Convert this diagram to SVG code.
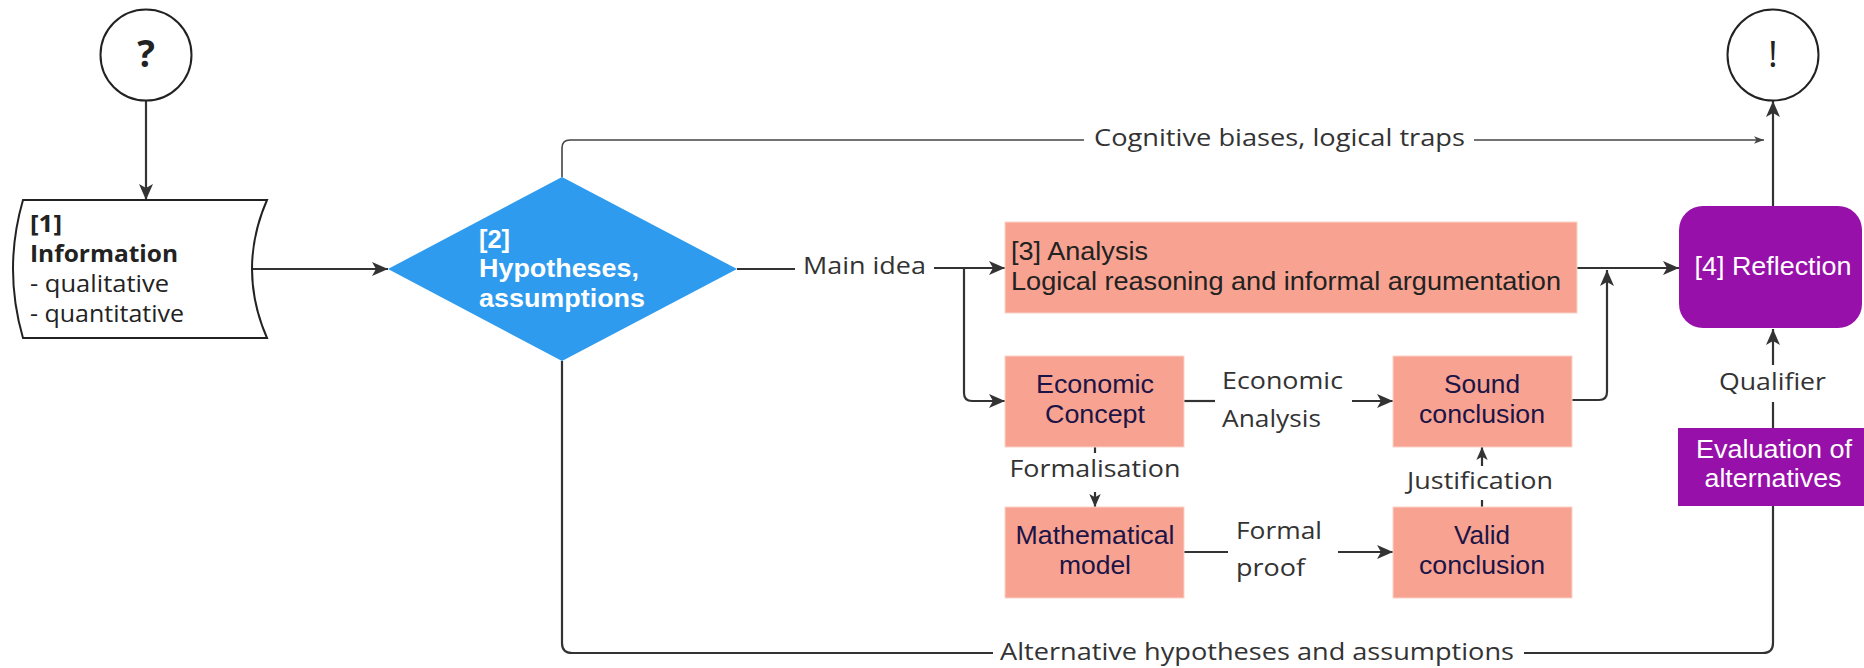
<svg xmlns="http://www.w3.org/2000/svg" width="1864" height="668" viewBox="0 0 1864 668">
<style>
.ln{fill:none;stroke:#333;stroke-width:2.2}
.thin{fill:none;stroke:#444;stroke-width:1.6}
.lbl{font-family:"Open Sans","Noto Sans",sans-serif;font-size:24px;fill:#333}
.nt{font-family:"Liberation Sans",Arial,sans-serif;font-size:25px}
.salmon{fill:#F8A291;stroke:#FBD3CA;stroke-width:1}
.purple{fill:#9810AA}
.navy{fill:#1B1446}
.wt{fill:#fff}
.ctr{text-anchor:middle}
</style>
<defs>
<marker id="a" viewBox="0 0 16 16" markerWidth="16" markerHeight="16" refX="16" refY="8" orient="auto" markerUnits="userSpaceOnUse"><path d="M0,1 L16,8 L0,15 L4,8 Z" fill="#333"/></marker>
<marker id="s" viewBox="0 0 16 16" markerWidth="13" markerHeight="13" refX="16" refY="8" orient="auto" markerUnits="userSpaceOnUse"><path d="M0,1 L16,8 L0,15 L4,8 Z" fill="#333"/></marker>
<marker id="t" viewBox="0 0 16 16" markerWidth="10" markerHeight="10" refX="16" refY="8" orient="auto" markerUnits="userSpaceOnUse"><path d="M0,2 L16,8 L0,14 L4,8 Z" fill="#444"/></marker>
</defs>
<rect width="1864" height="668" fill="#fff"/>

<g id="connectors">
<path class="ln" d="M146,101 L146,200" marker-end="url(#a)"/>
<path class="ln" d="M252,269 L388,269" marker-end="url(#a)"/>
<path class="ln" d="M737,269 L795,269"/>
<path class="ln" d="M934,268 L1005,268" marker-end="url(#a)"/>
<path class="ln" d="M964,268 L964,393 Q964,401 972,401 L1005,401" marker-end="url(#a)"/>
<path class="ln" d="M1184,401 L1215,401"/>
<path class="ln" d="M1352,401 L1393,401" marker-end="url(#a)"/>
<path class="ln" d="M1095,447 L1095,453"/>
<path class="ln" d="M1095,492 L1095,507" marker-end="url(#s)"/>
<path class="ln" d="M1184,552 L1228,552"/>
<path class="ln" d="M1338,552 L1393,552" marker-end="url(#a)"/>
<path class="ln" d="M1482,507 L1482,500"/>
<path class="ln" d="M1482,466 L1482,447" marker-end="url(#s)"/>
<path class="ln" d="M1572,400 L1599,400 Q1607,400 1607,392 L1607,270" marker-end="url(#a)"/>
<path class="ln" d="M1577,268 L1679,268" marker-end="url(#a)"/>
<path class="ln" d="M1773,206 L1773,101" marker-end="url(#a)"/>
<path class="thin" d="M562,177 L562,148 Q562,140 570,140 L1084,140"/>
<path class="thin" d="M1474,140 L1764,140" marker-end="url(#t)"/>
<path class="ln" d="M1773,428 L1773,402"/>
<path class="ln" d="M1773,365 L1773,329" marker-end="url(#a)"/>
<path class="ln" d="M562,361 L562,643 Q562,653 572,653 L993,653"/>
<path class="ln" d="M1524,653 L1763,653 Q1773,653 1773,643 L1773,506"/>
<text class="lbl" x="803" y="274" textLength="123" lengthAdjust="spacingAndGlyphs">Main idea</text>
<text class="lbl" x="1094" y="146" textLength="371" lengthAdjust="spacingAndGlyphs">Cognitive biases, logical traps</text>
<text class="lbl" x="1222" y="389" textLength="121" lengthAdjust="spacingAndGlyphs">Economic</text>
<text class="lbl" x="1222" y="427" textLength="99" lengthAdjust="spacingAndGlyphs">Analysis</text>
<text class="lbl ctr" x="1095" y="477" textLength="171" lengthAdjust="spacingAndGlyphs">Formalisation</text>
<text class="lbl ctr" x="1480" y="489" textLength="146" lengthAdjust="spacingAndGlyphs">Justification</text>
<text class="lbl" x="1236" y="539" textLength="86" lengthAdjust="spacingAndGlyphs">Formal</text>
<text class="lbl" x="1236" y="576" textLength="69" lengthAdjust="spacingAndGlyphs">proof</text>
<text class="lbl" x="1719" y="390" textLength="107" lengthAdjust="spacingAndGlyphs">Qualifier</text>
<text class="lbl" x="1000" y="660" textLength="514" lengthAdjust="spacingAndGlyphs">Alternative hypotheses and assumptions</text>
</g>

<g id="start">
<circle cx="146" cy="55" r="45.5" fill="#fff" stroke="#222" stroke-width="2"/>
<text x="146" y="67" class="ctr" font-family="'Open Sans','Noto Sans',sans-serif" font-weight="bold" font-size="37" fill="#222">?</text>
</g>

<g id="info">
<path d="M23,200 L267,200 Q237,269 267,338 L23,338 Q3,269 23,200 Z" fill="#fff" stroke="#222" stroke-width="2"/>
<g font-family="'Open Sans','Noto Sans',sans-serif" font-size="23.5" fill="#222">
<text x="30" y="232" font-weight="bold" textLength="32" lengthAdjust="spacingAndGlyphs">[1]</text>
<text x="30" y="262" font-weight="bold" textLength="148" lengthAdjust="spacingAndGlyphs">Information</text>
<text x="30" y="292" textLength="139" lengthAdjust="spacingAndGlyphs">- qualitative</text>
<text x="30" y="322" textLength="154" lengthAdjust="spacingAndGlyphs">- quantitative</text>
</g>
</g>

<g id="hypotheses">
<path d="M388,269 L562,177 L737,269 L562,361 Z" fill="#2E9BEF"/>
<g font-family="'Liberation Sans',Arial,sans-serif" font-weight="bold" font-size="25" fill="#fff">
<text x="479" y="248" textLength="31" lengthAdjust="spacingAndGlyphs">[2]</text>
<text x="479" y="277" textLength="160" lengthAdjust="spacingAndGlyphs">Hypotheses,</text>
<text x="479" y="307" textLength="166" lengthAdjust="spacingAndGlyphs">assumptions</text>
</g>
</g>

<g id="analysis">
<rect class="salmon" x="1005" y="222" width="572" height="91"/>
<text class="nt" x="1011" y="260" fill="#222" textLength="137" lengthAdjust="spacingAndGlyphs">[3] Analysis</text>
<text class="nt" x="1011" y="290" fill="#222" textLength="550" lengthAdjust="spacingAndGlyphs">Logical reasoning and informal argumentation</text>
</g>

<g id="economic-concept">
<rect class="salmon" x="1005" y="356" width="179" height="91"/>
<text class="nt navy ctr" x="1095" y="393" textLength="118" lengthAdjust="spacingAndGlyphs">Economic</text>
<text class="nt navy ctr" x="1095" y="423" textLength="100" lengthAdjust="spacingAndGlyphs">Concept</text>
</g>

<g id="sound-conclusion">
<rect class="salmon" x="1393" y="356" width="179" height="91"/>
<text class="nt navy ctr" x="1482" y="393" textLength="76" lengthAdjust="spacingAndGlyphs">Sound</text>
<text class="nt navy ctr" x="1482" y="423" textLength="126" lengthAdjust="spacingAndGlyphs">conclusion</text>
</g>

<g id="mathematical-model">
<rect class="salmon" x="1005" y="507" width="179" height="91"/>
<text class="nt navy ctr" x="1095" y="544" textLength="159" lengthAdjust="spacingAndGlyphs">Mathematical</text>
<text class="nt navy ctr" x="1095" y="574" textLength="72" lengthAdjust="spacingAndGlyphs">model</text>
</g>

<g id="valid-conclusion">
<rect class="salmon" x="1393" y="507" width="179" height="91"/>
<text class="nt navy ctr" x="1482" y="544" textLength="56" lengthAdjust="spacingAndGlyphs">Valid</text>
<text class="nt navy ctr" x="1482" y="574" textLength="126" lengthAdjust="spacingAndGlyphs">conclusion</text>
</g>

<g id="reflection">
<rect class="purple" x="1679" y="206" width="183" height="122" rx="24"/>
<text class="nt wt ctr" x="1773" y="275" textLength="157" lengthAdjust="spacingAndGlyphs">[4] Reflection</text>
</g>

<g id="evaluation">
<rect class="purple" x="1678" y="428" width="186" height="78"/>
<text class="nt wt ctr" x="1774" y="458" textLength="156" lengthAdjust="spacingAndGlyphs">Evaluation of</text>
<text class="nt wt ctr" x="1773" y="487" textLength="137" lengthAdjust="spacingAndGlyphs">alternatives</text>
</g>

<g id="end">
<circle cx="1773" cy="55" r="45.5" fill="#fff" stroke="#222" stroke-width="2"/>
<text x="1773" y="67" class="ctr" font-family="'Open Sans','Noto Sans',sans-serif" font-size="37" fill="#222">!</text>
</g>
</svg>
